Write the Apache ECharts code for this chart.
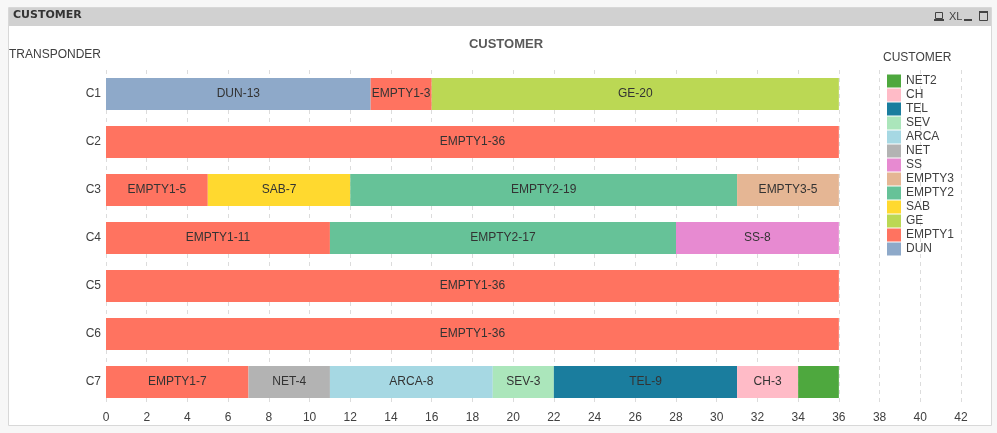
<!DOCTYPE html>
<html><head><meta charset="utf-8">
<style>html,body{margin:0;padding:0;background:#f7f7f7}#c{width:997px;height:433px}</style>
<script src="https://cdn.jsdelivr.net/npm/echarts@6/dist/echarts.min.js"></script>
</head><body><div id="c"></div>
<script>
const categories = ['C1','C2','C3','C4','C5','C6','C7'];
const ticks = [0,42];
const DUN    = [13,0,0,0,0,0,0];
const EMPTY1 = [3,36,5,11,36,36,7];
const GE     = [20,0,0,0,0,0,0];
const SAB    = [0,0,7,0,0,0,0];
const EMPTY2 = [0,0,19,17,0,0,0];
const EMPTY3 = [0,0,5,0,0,0,0];
const SS     = [0,0,0,8,0,0,0];
const NET    = [0,0,0,0,0,0,4];
const ARCA   = [0,0,0,0,0,0,8];
const SEV    = [0,0,0,0,0,0,3];
const TEL    = [0,0,0,0,0,0,9];
const CH     = [0,0,0,0,0,0,3];
const NET2   = [0,0,0,0,0,0,2];
const seriesDefs = [
 ['DUN',DUN,'#8ea9c9'],['EMPTY1',EMPTY1,'#ff7360'],['GE',GE,'#bbd854'],['SAB',SAB,'#ffd92f'],
 ['EMPTY2',EMPTY2,'#66c298'],['EMPTY3',EMPTY3,'#e5b694'],['SS',SS,'#e78ad1'],['NET',NET,'#b3b3b3'],
 ['ARCA',ARCA,'#a6d8e3'],['SEV',SEV,'#abe6bb'],['TEL',TEL,'#1a7d9e'],['CH',CH,'#ffbbc7'],['NET2',NET2,'#4ea83e']
];
const hiddenLabels = ['NET2'];
const font = '"Liberation Sans", Arial, sans-serif';
const chart = echarts.init(document.getElementById('c'), null, {renderer:'canvas'});
chart.setOption({
 animation:false,
 backgroundColor:'#f7f7f7',
 textStyle:{fontFamily:font},
 title:{text:'CUSTOMER',left:501,top:33,textAlign:'center',
   textStyle:{fontFamily:'"Liberation Sans", Arial, sans-serif',fontSize:13,fontWeight:'bold',color:'#595959'}},
 grid:{left:106,right:36,top:70,bottom:27,containLabel:false},
 legend:{orient:'vertical',left:882,top:69.5,itemWidth:14,itemHeight:13,itemGap:1,
   data:seriesDefs.map(s=>s[0]).reverse(),selectedMode:false,icon:'rect',
   textStyle:{fontFamily:font,fontSize:12,color:'#404040',padding:[0,0,0,0]}},
 xAxis:{type:'value',min:ticks[0],max:ticks[1],interval:2,
   axisLine:{show:false},axisTick:{show:false},
   axisLabel:{fontFamily:font,fontSize:12,color:'#404040',margin:6,showMaxLabel:true,showMinLabel:true},
   splitLine:{show:true,lineStyle:{color:'#dcdcdc',type:[4,4],width:1}}},
 yAxis:{type:'category',inverse:true,data:categories,
   name:'TRANSPONDER',nameLocation:'start',nameGap:9,
   nameTextStyle:{fontFamily:font,fontSize:12,color:'#404040',align:'right',padding:[0,5,0,0]},
   axisLine:{show:false},axisTick:{show:false},
   axisLabel:{fontFamily:font,fontSize:12,color:'#404040',margin:5}},
 series:seriesDefs.map(([name,vals,color])=>({
   name,type:'bar',stack:'t',barWidth:32,
   data:vals.map(v=>v===0?null:v),
   itemStyle:{color,borderWidth:0},
   emphasis:{disabled:true},
   label:{show:!hiddenLabels.includes(name),position:'inside',fontFamily:font,fontSize:12,color:'#333',
     formatter:p=>p.seriesName+'-'+p.value}
 })),
 graphic:[
  {type:'rect',z:-10,silent:true,shape:{x:8.5,y:7.5,width:983,height:418},style:{fill:'#fff',stroke:'#d8d8d8',lineWidth:1}},
  {type:'rect',z:-9,silent:true,shape:{x:9,y:8,width:982,height:18},style:{fill:'#d1d1d1'}},
  {type:'text',z:5,silent:true,x:13,y:10,style:{text:'CUSTOMER',fontFamily:'"DejaVu Sans", sans-serif',fontWeight:'bold',fontSize:11,fill:'#333'}},
  {type:'text',z:5,silent:true,x:883,y:52,style:{text:'CUSTOMER',fontFamily:font,fontSize:12,fill:'#404040'}},
  {type:'rect',z:5,silent:true,shape:{x:935.5,y:12.5,width:7,height:6},style:{fill:'none',stroke:'#444'}},
  {type:'rect',z:5,silent:true,shape:{x:934,y:19,width:10,height:2},style:{fill:'#444'}},
  {type:'text',z:5,silent:true,x:949,y:11,style:{text:'XL',fontFamily:font,fontSize:11,fill:'#444'}},
  {type:'rect',z:5,silent:true,shape:{x:964,y:19,width:8,height:2},style:{fill:'#444'}},
  {type:'rect',z:5,silent:true,shape:{x:979.5,y:11.5,width:8,height:9},style:{fill:'none',stroke:'#444'}},
  {type:'rect',z:5,silent:true,shape:{x:979,y:11,width:9,height:2},style:{fill:'#444'}}
 ]
});
</script></body></html>
